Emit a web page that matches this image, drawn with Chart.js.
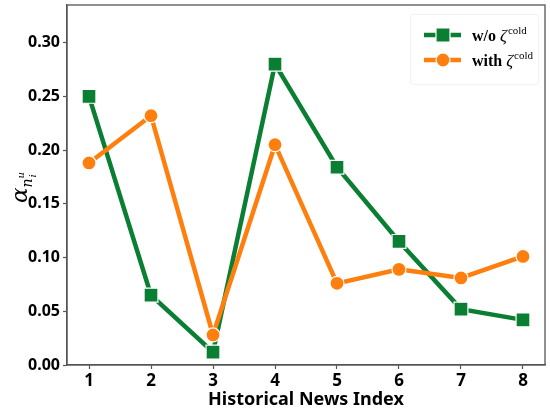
<!DOCTYPE html>
<html><head><meta charset="utf-8">
<script src="https://cdn.jsdelivr.net/npm/chart.js@4/dist/chart.umd.min.js"></script>
<style>html,body{margin:0;padding:0;background:#fff}#wrap{width:550px;height:411px}</style>
</head><body><div id="wrap"><canvas id="c" width="550" height="411"></canvas></div>
<script>
const categories = [1, 2, 3, 4, 5, 6, 7, 8];
const withoutCold = [0.250, 0.065, 0.012, 0.280, 0.184, 0.115, 0.052, 0.042];
const withCold = [0.188, 0.232, 0.028, 0.205, 0.076, 0.089, 0.081, 0.101];
const yTicks = [0.00, 0.05, 0.10, 0.15, 0.20, 0.25, 0.30];
const seriesNames = ['w/o ', 'with '];
const xTitle = 'Historical News Index';

const GREEN = '#0a7f33', ORANGE = '#ff7f0e', SPINE = '#555555';

function drawRuns(ctx, x, y, runs) {
  for (const r of runs) {
    ctx.font = r.font;
    ctx.fillText(r.t, x, y + (r.dy || 0));
    x += ctx.measureText(r.t).width + (r.after || 0);
  }
  return x;
}

const customPlugin = {
  id: 'custom',
  afterDraw(chart) {
    const ctx = chart.ctx, a = chart.chartArea;
    ctx.save();
    // spines
    ctx.strokeStyle = SPINE; ctx.lineWidth = 1.3;
    ctx.strokeRect(a.left, a.top, a.right - a.left, a.bottom - a.top);
    // legend frame
    ctx.fillStyle = 'rgba(255,255,255,0.8)';
    ctx.strokeStyle = 'rgba(0,0,0,0.05)';
    ctx.lineWidth = 1;
    ctx.beginPath();
    ctx.roundRect(410.5, 14.5, 128, 70, 3);
    ctx.fill(); ctx.stroke();
    const items = [
      {name: seriesNames[0], color: GREEN, shape: 'rect', y: 35},
      {name: seriesNames[1], color: ORANGE, shape: 'circle', y: 60}
    ];
    for (const it of items) {
      ctx.strokeStyle = it.color; ctx.lineWidth = 4.5;
      ctx.beginPath(); ctx.moveTo(424, it.y); ctx.lineTo(461, it.y); ctx.stroke();
      ctx.fillStyle = it.color; ctx.strokeStyle = '#fff'; ctx.lineWidth = 1.2;
      ctx.beginPath();
      if (it.shape === 'rect') ctx.rect(436, it.y - 7, 14, 14);
      else ctx.arc(443, it.y, 7, 0, Math.PI * 2);
      ctx.fill(); ctx.stroke();
      ctx.fillStyle = '#000'; ctx.textBaseline = 'alphabetic'; ctx.textAlign = 'left';
      drawRuns(ctx, 472, it.y + 6, [
        {t: it.name, font: 'bold 16px "Liberation Serif"'},
        {t: 'ζ', font: 'italic 17px "Liberation Serif"', after: 1},
        {t: 'cold', font: '11px "Liberation Serif"', dy: -7}
      ]);
    }
    // y title (rotated)
    ctx.translate(27, (a.top + a.bottom) / 2);
    ctx.rotate(-Math.PI / 2);
    ctx.fillStyle = '#000';
    ctx.textAlign = 'left';
    const start = -18;
    let x = drawRuns(ctx, start, 0, [
      {t: 'α', font: 'italic 23px "DejaVu Serif"'},
      {t: 'n', font: 'italic 14px "DejaVu Serif"', dy: 5}
    ]);
    ctx.font = 'italic 10px "DejaVu Serif"';
    ctx.fillText('u', x, -3);
    ctx.fillText('i', x + 1, 9);
    ctx.restore();
  }
};

new Chart(document.getElementById('c'), {
  type: 'line',
  data: {
    datasets: [
      {
        label: seriesNames[1],
        data: categories.map((c, i) => ({x: c, y: withCold[i]})),
        borderColor: ORANGE, backgroundColor: ORANGE, borderWidth: 4.5,
        pointStyle: 'circle', pointRadius: 7, pointHoverRadius: 7,
        pointBorderColor: '#fff', pointBorderWidth: 1.2, pointBackgroundColor: ORANGE,
        tension: 0
      },
      {
        label: seriesNames[0],
        data: categories.map((c, i) => ({x: c, y: withoutCold[i]})),
        borderColor: GREEN, backgroundColor: GREEN, borderWidth: 4.5,
        pointStyle: 'rect', pointRadius: 9.8, pointHoverRadius: 9.8,
        pointBorderColor: '#fff', pointBorderWidth: 1.2, pointBackgroundColor: GREEN,
        tension: 0
      }
    ]
  },
  options: {
    responsive: false, animation: false,
    layout: {autoPadding: false, padding: {top: 5, right: 5, left: 0, bottom: 0}},
    plugins: {legend: {display: false}, tooltip: {enabled: false}},
    scales: {
      x: {
        type: 'linear', min: 0.645, max: 8.355,
        afterBuildTicks: s => { s.ticks = categories.map(v => ({value: v})); },
        ticks: {callback: v => String(v), font: {family: 'Noto Sans', weight: 'bold', size: 17}, color: '#000', padding: 2, maxRotation: 0},
        grid: {drawOnChartArea: false, drawTicks: true, tickLength: 4, tickColor: SPINE, tickWidth: 1.2},
        border: {color: SPINE, width: 1.3},
        title: {display: true, text: xTitle, font: {family: 'Noto Sans', weight: 'bold', size: 18}, color: '#000', padding: {top: 0, bottom: 0}},
        afterFit: s => { s.height = 46; s.paddingLeft = 0; s.paddingRight = 0; }
      },
      y: {
        min: 0, max: 0.335,
        afterBuildTicks: s => { s.ticks = yTicks.map(v => ({value: v})); },
        ticks: {callback: v => v.toFixed(2), font: {family: 'Noto Sans', weight: 'bold', size: 16}, color: '#000', padding: 3},
        grid: {drawOnChartArea: false, drawTicks: true, tickLength: 4, tickColor: SPINE, tickWidth: 1.2},
        border: {color: SPINE, width: 1.3},
        afterFit: s => { s.width = 67; s.paddingTop = 0; s.paddingBottom = 0; }
      }
    }
  },
  plugins: [customPlugin]
});
</script></body></html>
